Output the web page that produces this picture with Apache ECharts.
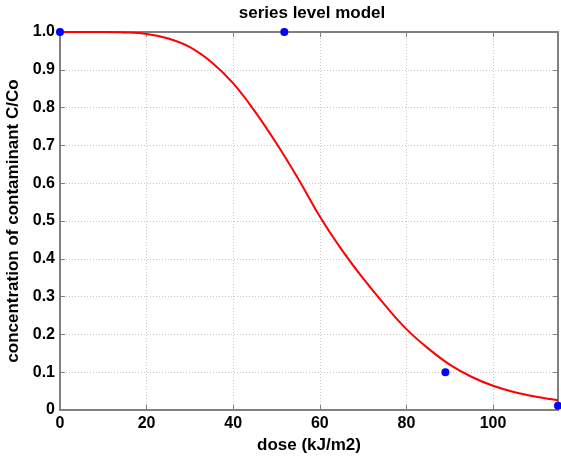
<!DOCTYPE html>
<html>
<head>
<meta charset="utf-8">
<script src="https://cdn.jsdelivr.net/npm/echarts@6/dist/echarts.min.js"></script>
<style>
html,body{margin:0;padding:0;background:#fff;}
#chart{width:561px;height:456px;}
</style>
</head>
<body>
<div id="chart"></div>
<script>
// Model curve
var curveDose = [0,10,15,20,25,30,35,40,45,50,55,60,65,70,75,80,85,90,95,100,105,110,115];
var curveConc = [1.0,1.0,0.999,0.995,0.983,0.96,0.92,0.864,0.79,0.705,0.612,0.512,0.425,0.348,0.278,0.214,0.163,0.12,0.088,0.064,0.047,0.035,0.026];
// Measured points
var pointDose = [0,51.8,89,115];
var pointConc = [1.0,1.0,0.1,0.011];
// Axis ticks
var xTicks = [0,20,40,60,80,100];
var yTicks = [0,0.1,0.2,0.3,0.4,0.5,0.6,0.7,0.8,0.9,1.0];

var FONT = '"Liberation Sans", Arial, sans-serif';
var chart = echarts.init(document.getElementById('chart'));
var axisGray = '#808080';
var gridLine = {show:true, lineStyle:{color:'#c8c8c8', type:[1,2], width:1}};

function yFmt(v){ return Math.abs(v) < 1e-9 ? '0' : v.toFixed(1); }

chart.setOption({
  backgroundColor:'#fff',
  animation:false,
  title:{
    text:'series level model', left:307, top:0, textAlign:'center',
    textStyle:{fontFamily:FONT, fontWeight:'bold', fontSize:17, color:'#000'}
  },
  grid:{left:60, right:3, top:32, bottom:46, outerBoundsMode:'none', containLabel:false},
  xAxis:[{
    type:'value', min:0, max:115, interval:20,
    name:'dose (kJ/m2)', nameLocation:'middle', nameGap:27,
    nameTextStyle:{fontFamily:FONT, fontWeight:'bold', fontSize:17, color:'#000'},
    axisLine:{show:true, onZero:false, lineStyle:{color:axisGray, width:2}},
    axisTick:{show:true, inside:true, length:5, lineStyle:{color:axisGray}},
    axisLabel:{fontFamily:FONT, fontWeight:'bold', fontSize:16, color:'#000', margin:6, showMaxLabel:false},
    splitLine:gridLine
  },{
    type:'value', position:'top', min:0, max:115, interval:20,
    axisLine:{show:true, onZero:false, lineStyle:{color:axisGray, width:2}},
    axisTick:{show:true, inside:true, length:5, lineStyle:{color:axisGray}},
    axisLabel:{show:false}, splitLine:{show:false}
  }],
  yAxis:[{
    type:'value', min:0, max:1, interval:0.1,
    name:'concentration of contaminant C/Co', nameLocation:'middle', nameGap:33,
    nameTextStyle:{fontFamily:FONT, fontWeight:'bold', fontSize:17, color:'#000'},
    axisLine:{show:true, onZero:false, lineStyle:{color:axisGray, width:2}},
    axisTick:{show:true, inside:true, length:5, lineStyle:{color:axisGray}},
    axisLabel:{fontFamily:FONT, fontWeight:'bold', fontSize:16, color:'#000', margin:5, formatter:yFmt},
    splitLine:gridLine
  },{
    type:'value', position:'right', min:0, max:1, interval:0.1,
    axisLine:{show:true, onZero:false, lineStyle:{color:axisGray, width:2}},
    axisTick:{show:true, inside:true, length:5, lineStyle:{color:axisGray}},
    axisLabel:{show:false}, splitLine:{show:false}
  }],
  series:[{
    type:'line', xAxisIndex:0, yAxisIndex:0,
    data:curveDose.map(function(d,i){return [d,curveConc[i]];}),
    smooth:0.4, showSymbol:false, symbol:'none',
    lineStyle:{color:'#ff0000', width:2}, z:3
  },{
    type:'scatter', xAxisIndex:0, yAxisIndex:0,
    data:pointDose.map(function(d,i){return [d,pointConc[i]];}),
    symbol:'circle', symbolSize:8, clip:false,
    itemStyle:{color:'#0000ff', opacity:1}, z:4
  }]
});
</script>
</body>
</html>
